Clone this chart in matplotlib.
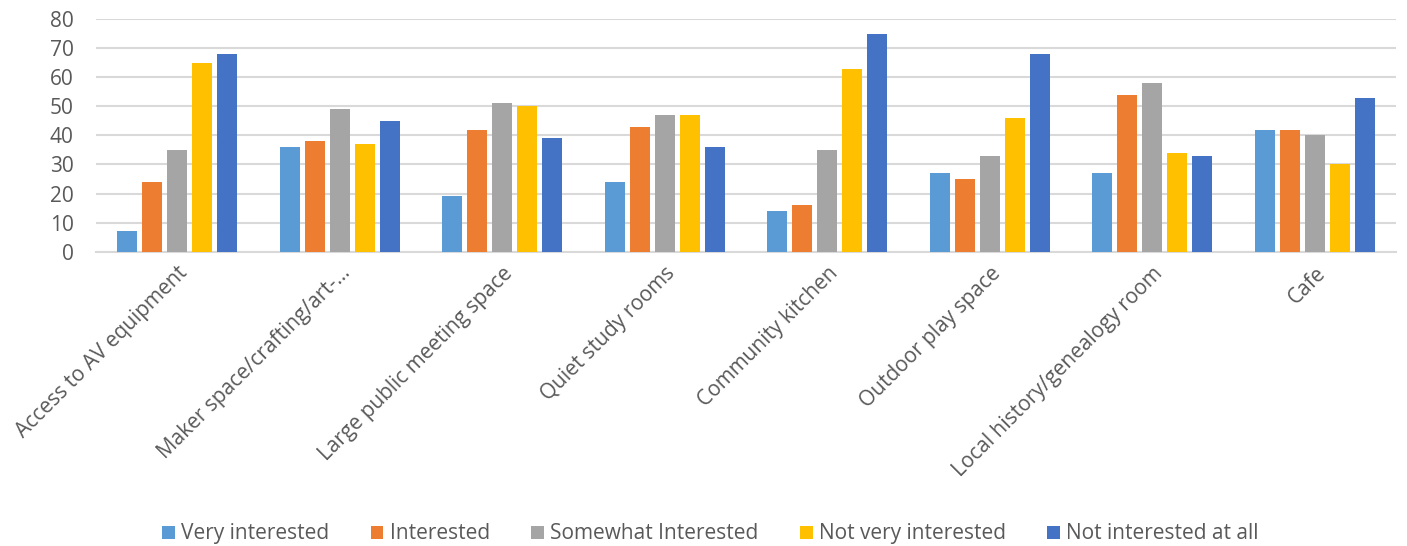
import matplotlib.pyplot as plt
import numpy as np
from matplotlib.patches import Patch

categories = ['Access to AV equipment', 'Maker space/crafting/art-...', 'Large public meeting space',
              'Quiet study rooms', 'Community kitchen', 'Outdoor play space',
              'Local history/genealogy room', 'Cafe']
series_names = ['Very interested', 'Interested', 'Somewhat Interested',
                'Not very interested', 'Not interested at all']
very_interested = [7, 36, 19, 24, 14, 27, 27, 42]
interested = [24, 38, 42, 43, 16, 25, 54, 42]
somewhat_interested = [35, 49, 51, 47, 35, 33, 58, 40]
not_very_interested = [65, 37, 50, 47, 63, 46, 34, 30]
not_interested_at_all = [68, 45, 39, 36, 75, 68, 33, 53]
yticks = [0, 10, 20, 30, 40, 50, 60, 70, 80]

colors = ['#5B9BD5', '#ED7D31', '#A5A5A5', '#FFC000', '#4472C4']
series = [very_interested, interested, somewhat_interested, not_very_interested, not_interested_at_all]

plt.rcParams['font.family'] = ['Open Sans', 'DejaVu Sans']
text_color = '#595959'

fig = plt.figure(figsize=(14.07, 5.46), dpi=100)
ax = fig.add_axes([0.0682, 0.539, 0.924, 0.426])

x = np.arange(len(categories))
width = 0.123
step = 0.154
for i, (vals, c) in enumerate(zip(series, colors)):
    ax.bar(x + (i - 2) * step, vals, width, color=c, zorder=3)

ax.set_xlim(-0.5, len(categories) - 0.5)
ax.set_ylim(0, 80)
ax.set_yticks(yticks)
ax.yaxis.grid(True, color='#D9D9D9', linewidth=1.5, zorder=0)
for s in ['top', 'right', 'left']:
    ax.spines[s].set_visible(False)
ax.spines['bottom'].set_color('#D9D9D9')
ax.spines['bottom'].set_linewidth(1.5)
ax.tick_params(axis='y', length=0, pad=16, labelsize=15, labelcolor=text_color)
ax.tick_params(axis='x', length=0, pad=8)
ax.set_xticks(x)
ax.set_xticklabels(categories, rotation=45, ha='right', va='top', rotation_mode='anchor',
                   fontsize=15, color=text_color)

handles = [Patch(facecolor=c, label=n) for c, n in zip(colors, series_names)]
fig.legend(handles=handles, loc='center', bbox_to_anchor=(0.505, 0.022), ncol=5, frameon=False,
           fontsize=15, labelcolor=text_color, handlelength=0.6, handleheight=0.6,
           handletextpad=0.3, columnspacing=2.0)

fig.savefig('out.png', dpi=100)
